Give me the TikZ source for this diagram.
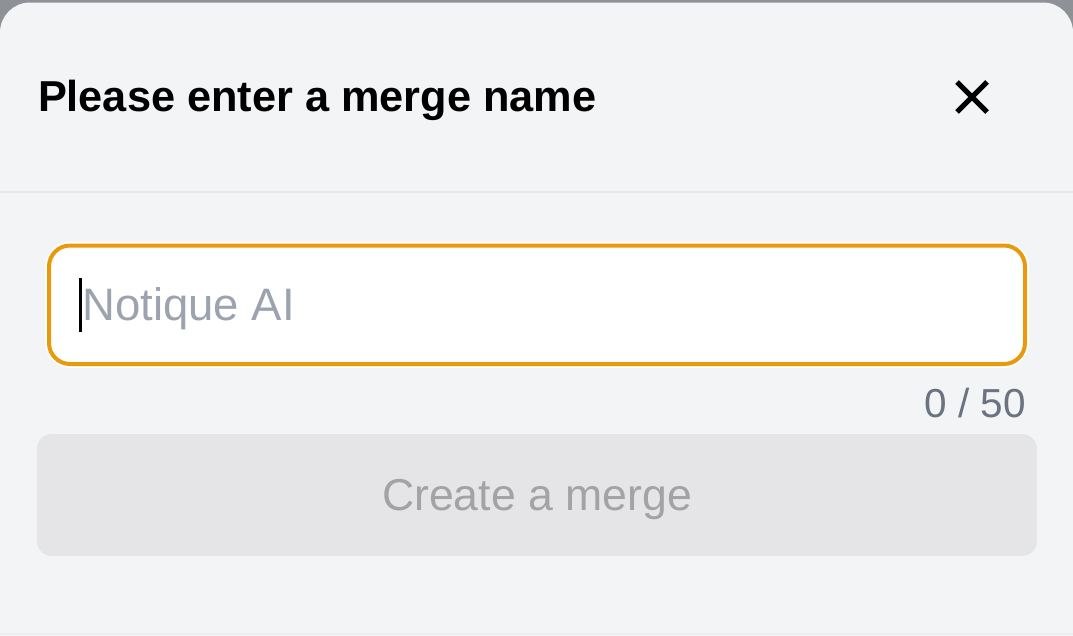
\documentclass[tikz,border=0pt]{standalone}
\usepackage{fontspec}
\setmainfont{Liberation Sans}
\definecolor{outer}{HTML}{8E9196}
\definecolor{card}{HTML}{F3F4F6}
\definecolor{sep}{HTML}{E5E7EB}
\definecolor{bottomedge}{HTML}{ECEDEF}
\definecolor{amber}{HTML}{E99A0C}
\definecolor{placeholder}{HTML}{9CA3AF}
\definecolor{counter}{HTML}{6B7280}
\definecolor{btnfill}{HTML}{E5E5E7}
\definecolor{btntext}{HTML}{A3A3A3}
\begin{document}
\begin{tikzpicture}[x=1pt,y=-1pt,
  txt/.style={inner sep=0pt,outer sep=0pt},
]
\useasboundingbox (0,0) rectangle (1073,635);
\fill[outer] (0,0) rectangle (1073,635);
\fill[card,rounded corners=30pt] (0,680) -- (0,2.5) -- (1073,2.5) -- (1073,680) -- cycle;
% separator
\fill[sep] (0,191) rectangle (1073,193);
% title
\node[txt,anchor=base west,font=\fontsize{43.3}{50}\selectfont\bfseries] (title) at (38,111) {Please enter a merge name};
% close
\coordinate (c1) at (957,82); \coordinate (c2) at (987,112);
\coordinate (c3) at (957,112); \coordinate (c4) at (987,82);
\draw[line width=5pt,black] (c1) -- (c2) (c3) -- (c4);
% input
\draw[white,line width=8pt,rounded corners=22pt] (49,245.5) rectangle (1025,364);
\draw[amber,fill=white,line width=4pt,rounded corners=21pt] (49,245.5) rectangle (1025,364);
\node[txt,anchor=base west,text=placeholder,font=\fontsize{45.5}{52}\selectfont] (ph) at (82.5,320) {Notique AI};
\fill[black] (79.3,278) rectangle (82,331.5);
% counter
\node[txt,anchor=base east,text=counter,font=\fontsize{40.5}{46}\selectfont] (cnt) at (1026,417.5) {0 / 50};
% button
\fill[btnfill,rounded corners=15pt] (37,434) rectangle (1037,556);
\node[txt,anchor=base,text=btntext,font=\fontsize{44.6}{52}\selectfont] (btn) at (537,510) {Create a merge};
% bottom edge
\fill[bottomedge] (0,632.5) rectangle (1073,635);
\end{tikzpicture}
\end{document}
